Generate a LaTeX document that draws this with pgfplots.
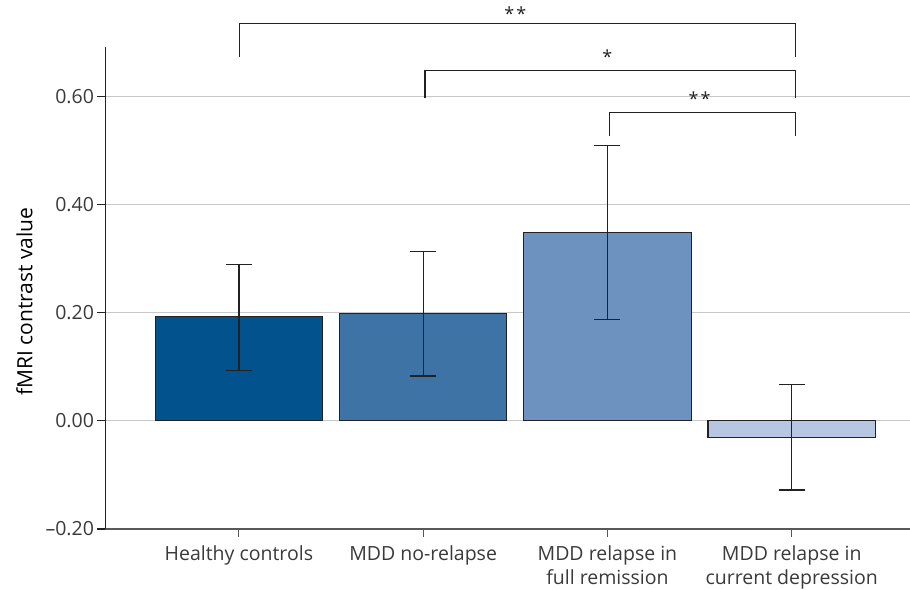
\documentclass[border=0pt]{standalone}
\usepackage{pgfplots}
\pgfplotsset{compat=1.18}
\usepackage{fontspec}
\setmainfont{Open Sans}
\definecolor{cA}{HTML}{02528E}
\definecolor{cB}{HTML}{3E73A6}
\definecolor{cC}{HTML}{6E92C0}
\definecolor{cD}{HTML}{B7C7E1}
\definecolor{edge}{HTML}{222222}
\definecolor{txt}{HTML}{3A3A3A}
\definecolor{gridc}{HTML}{C8C8C8}
\begin{document}
\begin{tikzpicture}
\useasboundingbox (-105.5pt,-60pt) rectangle (804.5pt,529pt);
\begin{axis}[
  scale only axis, width=804.5pt, height=482pt,
  xmin=-0.724, xmax=3.642, ymin=-0.2, ymax=0.692,
  clip=false,
  axis lines*=left,
  axis line style={-},
  x axis line style={color=black!65, line width=1.6pt},
  y axis line style={color=edge, line width=1.1pt},
  font=\fontsize{19.5}{23.3}\selectfont\color{txt},
  xtick={0,1,2,3},
  xticklabels={Healthy controls, MDD no-relapse, {MDD relapse in\\full remission}, {MDD relapse in\\current depression}},
  xticklabel style={align=center, text=txt, yshift=-5.5pt},
  ytick={-0.2,0,0.2,0.4,0.6},
  yticklabels={–0.20,0.00,0.20,0.40,0.60},
  yticklabel style={text=txt},
  tick align=outside,
  xtick style={color=black!65, line width=1.1pt},
  ytick style={color=edge, line width=1.1pt},
  major tick length=8pt,
  ymajorgrids,
  grid style={color=gridc, line width=1.1pt},
  ylabel={fMRI contrast value},
  every axis y label/.style={at={(axis description cs:0,0.5)}, rotate=90, anchor=center, yshift=81pt, xshift=-13.5pt, font=\fontsize{21}{24}\selectfont},
  error bars/error bar style={color=edge, line width=1.2pt},
  error bars/error mark options={color=edge, line width=1.2pt, mark size=13pt, rotate=90},
]
\addplot[ybar, bar width=167.5pt, bar shift=0pt, fill=cA, draw=edge, line width=1.1pt,
  error bars/.cd, y dir=both, y explicit]
  coordinates {(0,0.194) += (0,0.096) -= (0,0.100)};
\addplot[ybar, bar width=167.5pt, bar shift=0pt, fill=cB, draw=edge, line width=1.1pt,
  error bars/.cd, y dir=both, y explicit]
  coordinates {(1,0.198) += (0,0.116) -= (0,0.115)};
\addplot[ybar, bar width=167.5pt, bar shift=0pt, fill=cC, draw=edge, line width=1.1pt,
  error bars/.cd, y dir=both, y explicit]
  coordinates {(2,0.348) += (0,0.161) -= (0,0.160)};
\addplot[ybar, bar width=167.5pt, bar shift=0pt, fill=cD, draw=edge, line width=1.1pt,
  error bars/.cd, y dir=both, y explicit]
  coordinates {(3,-0.031) += (0,0.099) -= (0,0.097)};
% significance brackets
\addplot[edge, line width=1.1pt, no marks, forget plot] coordinates {(0.005,0.674) (0.005,0.735) (3.02,0.735) (3.02,0.674)};
\addplot[edge, line width=1.1pt, no marks, forget plot] coordinates {(1.01,0.597) (1.01,0.649) (3.02,0.649) (3.02,0.597)};
\addplot[edge, line width=1.1pt, no marks, forget plot] coordinates {(2.01,0.528) (2.01,0.571) (3.02,0.571) (3.02,0.528)};
\node[anchor=center, text=edge, inner sep=0pt, font=\fontsize{18}{18}\selectfont] at (axis cs:1.5,0.754) {*\kern2pt*};
\node[anchor=center, text=edge, inner sep=0pt, font=\fontsize{18}{18}\selectfont] at (axis cs:2.0,0.675) {*};
\node[anchor=center, text=edge, inner sep=0pt, font=\fontsize{18}{18}\selectfont] at (axis cs:2.5,0.596) {*\kern2pt*};
\end{axis}
\end{tikzpicture}
\end{document}
